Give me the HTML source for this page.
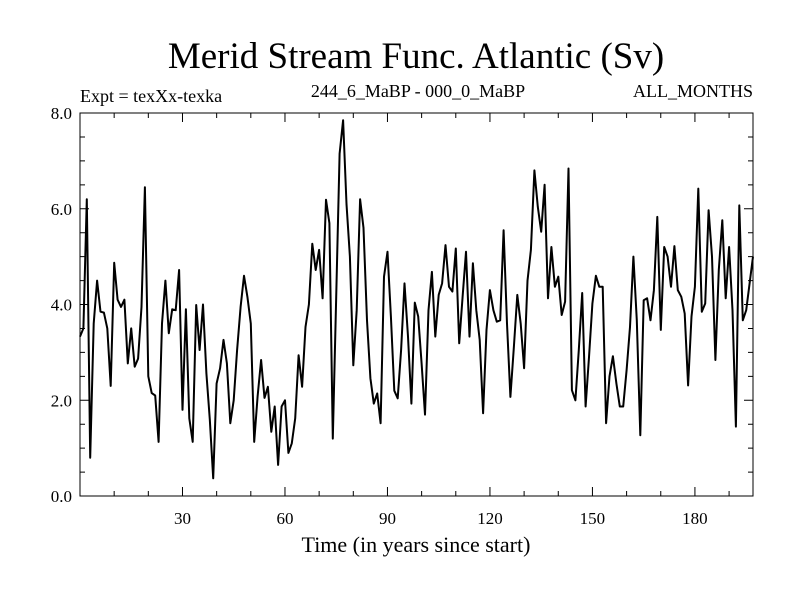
<!DOCTYPE html>
<html><head><meta charset="utf-8"><style>
html,body{margin:0;padding:0;background:#fff;}
svg{display:block;font-family:"Liberation Serif",serif;}
</style></head><body>
<svg id="chart" width="800" height="600" viewBox="0 0 800 600">
<text x="416" y="68" font-size="37" text-anchor="middle">Merid Stream Func. Atlantic (Sv)</text>
<text x="80" y="102" font-size="18">Expt = texXx-texka</text>
<text x="418" y="97" font-size="18" text-anchor="middle">244_6_MaBP - 000_0_MaBP</text>
<text x="753" y="97" font-size="18" text-anchor="end">ALL_MONTHS</text>
<text x="416" y="552" font-size="22" text-anchor="middle">Time (in years since start)</text>
<g id="axes"></g>
<rect x="80" y="113" width="673" height="383" fill="none" stroke="#000" stroke-width="1"/>
<path id="series" fill="none" stroke="#000" stroke-width="2" stroke-linejoin="round"/>
</svg>
<script>
const values = [3.33,3.5,6.2,0.8,3.6,4.5,3.85,3.83,3.5,2.3,4.87,4.1,3.95,4.1,2.77,3.5,2.7,2.87,3.95,6.45,2.5,2.15,2.1,1.13,3.6,4.5,3.4,3.9,3.88,4.72,1.8,3.9,1.62,1.13,
3.99,3.05,4.0,2.56,1.6,0.37,2.35,2.67,3.26,2.77,1.52,2.0,3.05,3.95,4.6,4.16,3.6,1.13,2.08,2.84,2.05,2.28,1.34,1.87,0.65,1.87,2.0,0.9,1.1,1.62,2.94,2.28,
3.53,4.0,5.27,4.72,5.14,4.13,6.19,5.7,1.2,4.16,7.15,7.85,6.1,5.0,2.73,3.88,6.2,5.6,3.67,2.46,1.93,2.14,1.52,4.58,5.1,3.75,2.2,2.04,3.05,4.44,3.33,1.93,4.04,
3.75,2.77,1.7,3.88,4.68,3.33,4.2,4.44,5.24,4.37,4.27,5.17,3.19,4.16,5.1,3.33,4.86,3.88,3.26,1.73,3.47,4.3,3.88,3.64,3.67,5.55,3.6,2.07,3.12,4.2,3.6,2.67,4.5,
5.14,6.8,6.04,5.52,6.5,4.13,5.2,4.37,4.58,3.78,4.06,6.84,2.21,2.0,3.05,4.24,1.87,2.9,4.02,4.6,4.37,4.37,1.52,2.5,2.92,2.35,1.87,1.87,2.63,3.53,5.0,3.67,1.27,
4.09,4.13,3.67,4.3,5.83,3.47,5.2,5.0,4.37,5.22,4.3,4.16,3.81,2.31,3.75,4.37,6.42,3.85,4.02,5.97,5.0,2.84,4.72,5.76,4.13,5.2,3.88,1.45,6.07,3.67,3.88,4.44,5.0];
const xTickLabels = [30,60,90,120,150,180];
const yTickLabels = ["0.0","2.0","4.0","6.0","8.0"];
const xMin = 0, xMax = 197, yMin = 0, yMax = 8;
const L=80,R=753,T=113,B=496;
function sx(v){return L+(v-xMin)/(xMax-xMin)*(R-L);}
function sy(v){return B-(v-yMin)/(yMax-yMin)*(B-T);}
const NS="http://www.w3.org/2000/svg";
const axes=document.getElementById('axes');
let d="";
for(let x=10;x<xMax;x+=10){const X=sx(x);const len=(x%30===0)?9:5;d+=`M${X} ${B}v${-len}M${X} ${T}v${len}`;}
for(let y=0.5;y<yMax;y+=0.5){const Y=sy(y);const len=(y%2===0)?9:5;d+=`M${L} ${Y}h${len}M${R} ${Y}h${-len}`;}
const tp=document.createElementNS(NS,'path');
tp.setAttribute('d',d);tp.setAttribute('stroke','#000');tp.setAttribute('fill','none');


axes.appendChild(tp);
xTickLabels.forEach(v=>{const t=document.createElementNS(NS,'text');
t.setAttribute('x',sx(v));t.setAttribute('y',524);t.setAttribute('font-size','17');t.setAttribute('text-anchor','middle');t.textContent=v;


axes.appendChild(t);});
yTickLabels.forEach(v=>{const t=document.createElementNS(NS,'text');
t.setAttribute('x',72);t.setAttribute('y',sy(parseFloat(v))+6);t.setAttribute('font-size','17');t.setAttribute('text-anchor','end');t.textContent=v;


axes.appendChild(t);});
document.getElementById('series').setAttribute('d',values.map((v,i)=>(i?'L':'M')+sx(i).toFixed(1)+' '+sy(v).toFixed(1)).join(''));
</script>
</body></html>
